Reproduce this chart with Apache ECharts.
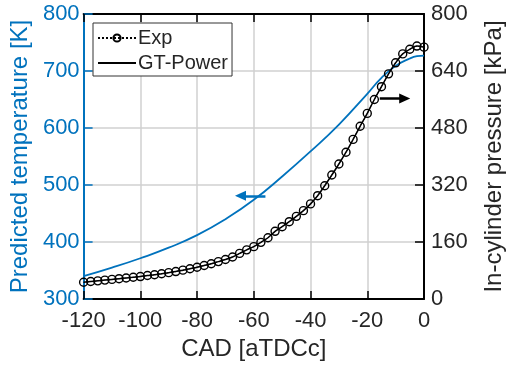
<!DOCTYPE html>
<html>
<head>
<meta charset="utf-8">
<script src="https://cdn.jsdelivr.net/npm/echarts@6/dist/echarts.min.js"></script>
<style>
html,body{margin:0;padding:0;background:#fff;}
#chart{width:514px;height:366px;}
</style>
</head>
<body>
<div id="chart"></div>
<script>
// ---- data ----
const cadExp = [-120,-117.5,-115,-112.5,-110,-107.5,-105,-102.5,-100,-97.5,-95,-92.5,-90,-87.5,-85,-82.5,-80,-77.5,-75,-72.5,-70,-67.5,-65,-62.5,-60,-57.5,-55,-52.5,-50,-47.5,-45,-42.5,-40,-37.5,-35,-32.5,-30,-27.5,-25,-22.5,-20,-17.5,-15,-12.5,-10,-7.5,-5,-2.5,0];
const pressureExp = [47,49,51,53,55,57,59,61,63,66,68,71,74,77,81,85,89,94,99,105,111,118,128,138,147,159,172,190,203,217,232,248,267,290,318,348,379,412,448,485,521,560,596,632,663,688,701,710,707];
const pressureGT = [47,49,51,53,55,57,59,61,63,66,68,71,74,77,81,85,89,94,99,105,111,118,128,138,147,159,172,190,203,217,232,248,267,290,318,348,379,412,448,485,521,560,596,632,663,688,701,710,707];
const cadTemp = [-120,-110,-100,-90,-80,-70,-60,-50,-40,-30,-20,-15,-10,-5,-2.5,0];
const tempGT = [340,355,371.5,390,412,440,474,515,559,606,660,688,709,722,726,727];
const xTicks = {min:-120, max:0, step:20};
const tTicks = {min:300, max:800, step:100};
const pTicks = {min:0, max:800, step:160};
// annotation arrows in data units
const tempArrow = [[-55.9,481],[-64.7,481]];
const presArrow = [[-15.6,563],[-6.8,563]];

const BLUE = '#0072BD';
const INK = '#262626';
const FONT = '"Liberation Sans", Arial, Helvetica, sans-serif';
const GRIDC = '#d0d0d0';

const zip = (a,b) => a.map((v,i)=>[v,b[i]]);

const chart = echarts.init(document.getElementById('chart'), null, {renderer:'canvas'});
const opt = {
  animation:false,
  backgroundColor:'#fff',
  textStyle:{fontFamily:FONT},
  grid:{left:83, right:77, top:14, bottom:65, containLabel:false},
  legend:{
    data:[{name:'Exp'},{name:'GT-Power', itemStyle:{opacity:0}}],
    orient:'vertical', left:93, top:23,
    itemWidth:38, itemHeight:9, itemGap:5,
    padding:[5,4,3,4],
    backgroundColor:'#fff', borderColor:'#333', borderWidth:1,
    textStyle:{fontSize:20, color:INK, fontFamily:FONT, lineHeight:20, padding:[0,0,0,-3]}
  },
  xAxis:[{
    type:'value', position:'bottom', min:xTicks.min, max:xTicks.max, interval:xTicks.step,
    name:'CAD [aTDCc]', nameLocation:'middle', nameGap:38,
    nameTextStyle:{fontSize:24, color:INK, fontFamily:FONT},
    axisLine:{show:true, onZero:false, lineStyle:{color:'#000', width:2}},
    axisTick:{show:true, inside:true, length:8, lineStyle:{color:'#000', width:1.5}},
    axisLabel:{fontSize:22, color:INK, margin:11, fontFamily:FONT},
    splitLine:{show:true, lineStyle:{color:GRIDC, width:1.5}}
  },{
    type:'value', position:'top', min:xTicks.min, max:xTicks.max, interval:xTicks.step,
    axisLine:{show:true, onZero:false, lineStyle:{color:'#000', width:2}},
    axisTick:{show:true, inside:true, length:8, lineStyle:{color:'#000', width:1.5}},
    axisLabel:{show:false}, splitLine:{show:false}
  }],
  yAxis:[{
    type:'value', position:'left', min:tTicks.min, max:tTicks.max, interval:tTicks.step,
    name:'Predicted temperature [K]', nameLocation:'middle', nameGap:46,
    nameTextStyle:{fontSize:24, color:BLUE, fontFamily:FONT},
    axisLine:{show:true, onZero:false, lineStyle:{color:BLUE, width:2}},
    axisTick:{show:true, inside:true, length:9, lineStyle:{color:BLUE, width:1.5}},
    axisLabel:{fontSize:22, color:BLUE, margin:4, fontFamily:FONT},
    splitLine:{show:true, lineStyle:{color:GRIDC, width:1.5}}
  },{
    type:'value', position:'right', min:pTicks.min, max:pTicks.max, interval:pTicks.step,
    name:'In-cylinder pressure [kPa]', nameLocation:'middle', nameGap:58,
    nameTextStyle:{fontSize:24, color:INK, fontFamily:FONT},
    axisLine:{show:true, onZero:false, lineStyle:{color:'#000', width:2}},
    axisTick:{show:true, inside:true, length:9, lineStyle:{color:'#000', width:1.5}},
    axisLabel:{fontSize:22, color:INK, margin:7, fontFamily:FONT},
    splitLine:{show:false}
  }],
  series:[{
    name:'Temperature', type:'line', xAxisIndex:0, yAxisIndex:0,
    data:zip(cadTemp,tempGT), smooth:0.5, showSymbol:false, symbol:'none',
    lineStyle:{color:BLUE, width:1.8}, itemStyle:{color:BLUE},
    markLine:{silent:true, symbol:['none','triangle'], symbolSize:[10,11],
      lineStyle:{color:BLUE, width:2.5, type:'solid'}, label:{show:false},
      data:[[{coord:tempArrow[0]},{coord:tempArrow[1]}]]}
  },{
    name:'GT-Power', type:'line', xAxisIndex:0, yAxisIndex:1,
    data:zip(cadExp,pressureGT), smooth:0.3, showSymbol:false, symbol:'none',
    lineStyle:{color:'#000', width:1.5}, itemStyle:{color:'#000'},
    markLine:{silent:true, symbol:['none','triangle'], symbolSize:[10,11],
      lineStyle:{color:'#000', width:2.5, type:'solid'}, label:{show:false},
      data:[[{coord:presArrow[0]},{coord:presArrow[1]}]]}
  },{
    name:'Exp', type:'line', xAxisIndex:0, yAxisIndex:1,
    data:zip(cadExp,pressureExp), symbol:'circle', symbolSize:8, showSymbol:true,
    lineStyle:{color:'#000', width:1, type:'dotted'},
    itemStyle:{color:'rgba(255,255,255,0)', borderColor:'#000', borderWidth:1.4}
  }]
};
chart.setOption(opt);
</script>
</body>
</html>
